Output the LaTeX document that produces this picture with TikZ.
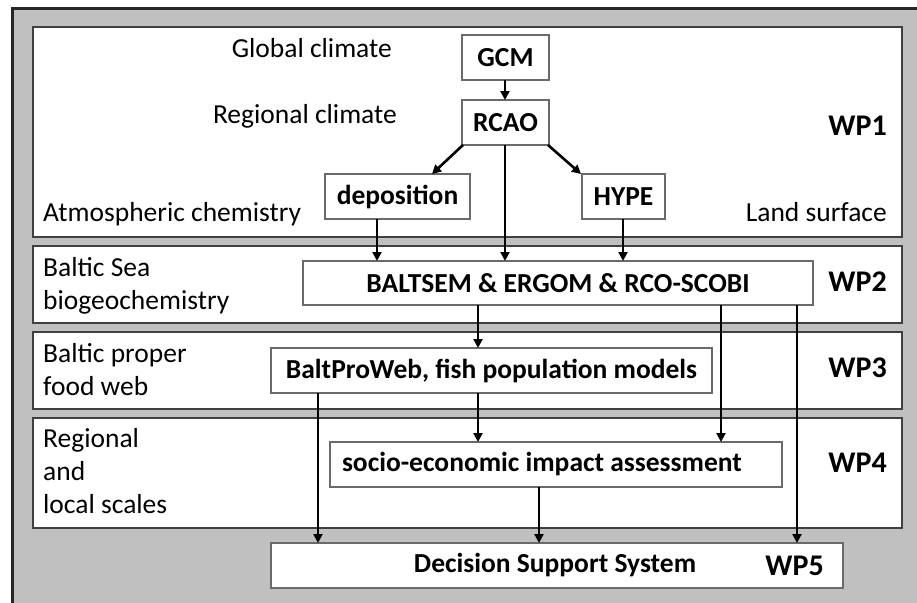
\documentclass[tikz,border=0pt]{standalone}
\usepackage{fontspec}
\setmainfont{Carlito}
\usetikzlibrary{arrows.meta}
\definecolor{outergray}{HTML}{C0C0C0}
\definecolor{panelline}{HTML}{404040}
\definecolor{boxline}{HTML}{6A6A6A}
\begin{document}
\begin{tikzpicture}[x=1pt,y=-1pt,
  panel/.style={draw=panelline, line width=1.6pt, fill=white, anchor=north west, inner sep=0pt, outer sep=0pt},
  box/.style={draw=boxline, line width=1.3pt, fill=white, anchor=north west, inner sep=0pt, outer sep=0pt,
    font=\fontsize{27.5}{33}\selectfont\bfseries, align=center},
  lbl/.style={inner sep=0pt, font=\fontsize{27.5}{33}\selectfont, align=left},
  wp/.style={inner sep=0pt, font=\fontsize{30}{34}\selectfont\bfseries, anchor=base east},
  arr/.style={line width=2.6pt, -{Triangle[length=9pt,width=9pt]}}]
\useasboundingbox (0,0) rectangle (917,602);
\fill[outergray] (12,9) rectangle (930,615);
\draw[black!85, line width=3pt] (12,615) -- (12,9) -- (930,9);

% panels
\node[panel, minimum width=869, minimum height=210] (p1) at (33,27) {};
\node[panel, minimum width=869, minimum height=77] (p2) at (33,246) {};
\node[panel, minimum width=869, minimum height=77] (p3) at (33,332) {};
\node[panel, minimum width=869, minimum height=110] (p4) at (33,418) {};

% boxes
\node[box, minimum width=87, minimum height=45] (gcm) at (462,35) {GCM};
\node[box, minimum width=87, minimum height=45] (rcao) at (462,100) {RCAO};
\node[box, minimum width=145, minimum height=45] (dep) at (325,174) {deposition};
\node[box, minimum width=83, minimum height=45] (hype) at (582,174) {HYPE};
\node[box, minimum width=510, minimum height=44] (balt) at (303,261) {BALTSEM \& ERGOM \& RCO-SCOBI};
\node[box, minimum width=441, minimum height=45] (bpw) at (271,348) {BaltProWeb, fish population models};
\node[box, minimum width=452, minimum height=45] (socio) at (330,442) {\makebox[428pt][l]{socio-economic impact assessment}};
\node[box, minimum width=572, minimum height=45] (dss) at (271,543) {\hspace*{-4pt}Decision Support System};

% labels
\node[lbl, anchor=base east] (glob) at (392,57) {Global climate};
\node[lbl, anchor=base east] (reg) at (397,123) {Regional climate};
\node[lbl, anchor=base west] (atm) at (43,221) {Atmospheric chemistry};
\node[lbl, anchor=base east] (land) at (887,221) {Land surface};
\node[lbl, anchor=base west] (bsea) at (43,309) {Baltic Sea\\biogeochemistry};
\node[lbl, anchor=base west] (bprop) at (43,395) {Baltic proper\\food web};
\node[lbl, anchor=base west] (rls) at (43,513) {Regional\\and\\local scales};
\node[wp] (wp1) at (887,135) {WP1};
\node[wp] (wp2) at (887,291) {WP2};
\node[wp] (wp3) at (887,377) {WP3};
\node[wp] (wp4) at (887,472) {WP4};
\node[wp] (wp5) at (824,575) {WP5};

% columns
\coordinate (cdep) at (377,0);
\coordinate (crc) at (505,0);
\coordinate (chy) at (623,0);
\coordinate (cbp) at (478,0);
\coordinate (cso) at (721,0);
\coordinate (cds) at (797,0);
\coordinate (cbw) at (318,0);
\coordinate (csd) at (539,0);

% arrows
\draw[arr] (gcm.south -| crc) -- (rcao.north -| crc);
\draw[arr] ([xshift=1pt]rcao.south west) -- ([xshift=107pt]dep.north west);
\draw[arr] ([xshift=-1pt]rcao.south east) -- ([xshift=-1pt]hype.north west);
\draw[arr] (rcao.south -| crc) -- (balt.north -| crc);
\draw[arr] (dep.south -| cdep) -- (balt.north -| cdep);
\draw[arr] (hype.south -| chy) -- (balt.north -| chy);
\draw[arr] (balt.south -| cbp) -- (bpw.north -| cbp);
\draw[arr] (balt.south -| cso) -- (socio.north -| cso);
\draw[arr] (balt.south -| cds) -- (dss.north -| cds);
\draw[arr] (bpw.south -| cbp) -- (socio.north -| cbp);
\draw[arr] (bpw.south -| cbw) -- (dss.north -| cbw);
\draw[arr] (socio.south -| csd) -- (dss.north -| csd);
\end{tikzpicture}
\end{document}
